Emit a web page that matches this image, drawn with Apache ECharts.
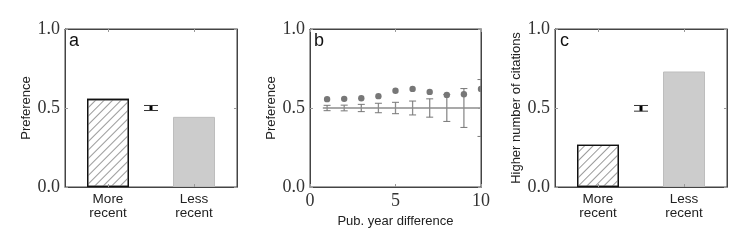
<!DOCTYPE html>
<html><head><meta charset="utf-8">
<script src="https://cdn.jsdelivr.net/npm/echarts@6/dist/echarts.min.js"></script>
<style>html,body{margin:0;padding:0;background:#fff}#c{width:747px;height:249px}</style>
</head><body><div id="c"></div>
<script>
// ---- data ----
const barCategories = ['More\nrecent', 'Less\nrecent'];
const prefA = [0.558, 0.444];
const nullA = [0.484, 0.516];          // low, high of null-model interval (panel a)
const citC = [0.267, 0.731];
const nullC = [0.480, 0.516];          // low, high (panel c)
const yearDiff = [1, 2, 3, 4, 5, 6, 7, 8, 9, 10];
const prefB = [0.556, 0.558, 0.562, 0.575, 0.609, 0.621, 0.602, 0.583, 0.587, 0.621];
const nullLowB = [0.483, 0.482, 0.477, 0.470, 0.464, 0.456, 0.442, 0.415, 0.377, 0.32];
const nullHighB = [0.517, 0.518, 0.523, 0.530, 0.536, 0.544, 0.558, 0.585, 0.623, 0.68];
const refLineB = [[0.75, 0.5], [10, 0.5]];
const panelLetters = ['a', 'b', 'c'];
const yNames = ['Preference', 'Preference', 'Higher number of citations'];
const xNameB = 'Pub. year difference';

// ---- helpers ----
const catAxisData = ['', barCategories[0], '', barCategories[1], ''];
const FRAME = '#444';
const TICK = '#999';
const serif = 'Liberation Serif';
const sans = 'Liberation Sans';

const gridBase = {show: true, borderColor: FRAME, borderWidth: 1, backgroundColor: 'transparent', top: 29, height: 158};
const grids = [
  Object.assign({left: 65, width: 172}, gridBase),
  Object.assign({left: 310, width: 171}, gridBase),
  Object.assign({left: 555, width: 172}, gridBase)
];

const lineOpt = () => ({show: true, onZero: false, lineStyle: {color: FRAME, width: 1}});

function yAxesFor(g) {
  return [
    {gridIndex: g, type: 'value', min: 0, max: 1, interval: 0.5, position: 'left', z: 5,
     name: yNames[g], nameLocation: 'middle', nameGap: 32, nameRotate: 90,
     nameTextStyle: {fontFamily: sans, fontSize: 13, color: '#222'},
     axisLine: lineOpt(),
     axisTick: {show: true, inside: true, length: 3, lineStyle: {color: TICK}},
     axisLabel: {fontFamily: serif, fontSize: 18, color: '#333', margin: 5, formatter: v => v.toFixed(1)},
     splitLine: {show: false}},
    {gridIndex: g, type: 'value', min: 0, max: 1, interval: 0.5, position: 'right', z: 5,
     axisLine: lineOpt(),
     axisTick: {show: true, inside: true, length: 3, lineStyle: {color: TICK}},
     axisLabel: {show: false}, splitLine: {show: false}}
  ];
}
function catXAxesFor(g) {
  const tickInt = (i) => i === 1 || i === 3;
  return [
    {gridIndex: g, type: 'category', data: catAxisData, boundaryGap: false, position: 'bottom', z: 5,
     axisLine: lineOpt(),
     axisTick: {show: true, inside: true, length: 3, interval: tickInt, lineStyle: {color: TICK}},
     axisLabel: {interval: 0, fontFamily: sans, fontSize: 13.5, lineHeight: 14.5, color: '#222', margin: 5},
     splitLine: {show: false}},
    {gridIndex: g, type: 'category', data: catAxisData, boundaryGap: false, position: 'top', z: 5,
     axisLine: lineOpt(),
     axisTick: {show: true, inside: true, length: 3, interval: tickInt, lineStyle: {color: TICK}},
     axisLabel: {show: false}, splitLine: {show: false}}
  ];
}
const valXAxesB = [
  {gridIndex: 1, type: 'value', min: 0, max: 10, interval: 5, position: 'bottom', z: 5,
   name: xNameB, nameLocation: 'middle', nameGap: 26,
   nameTextStyle: {fontFamily: sans, fontSize: 13, color: '#222'},
   axisLine: lineOpt(),
   axisTick: {show: true, inside: true, length: 3, lineStyle: {color: TICK}},
   axisLabel: {fontFamily: serif, fontSize: 18, color: '#333', margin: 5},
   splitLine: {show: false}},
  {gridIndex: 1, type: 'value', min: 0, max: 10, interval: 5, position: 'top', z: 5,
   axisLine: lineOpt(),
   axisTick: {show: true, inside: true, length: 3, lineStyle: {color: TICK}},
   axisLabel: {show: false}, splitLine: {show: false}}
];

const hatch = {
  symbol: 'rect', symbolSize: 1, color: '#9a9a9a',
  dashArrayX: [[1, 0]], dashArrayY: [1, 5], rotation: -Math.PI / 4
};

function barData(vals) {
  return [
    '-',
    {value: vals[0], itemStyle: {color: '#ffffff', borderColor: '#111', borderWidth: 1.3, decal: hatch}},
    '-',
    {value: vals[1], itemStyle: {color: '#cccccc', borderColor: '#bdbdbd', borderWidth: 1}},
    '-'
  ];
}

function errRender(capW, lineW, color, capColor) {
  return function (params, api) {
    const x = api.value(0), lo = api.value(1), hi = api.value(2);
    const p0 = api.coord([x, lo]), p1 = api.coord([x, hi]);
    return {type: 'group', children: [
      {type: 'line', shape: {x1: p0[0], y1: p0[1], x2: p1[0], y2: p1[1]}, style: {stroke: color, lineWidth: lineW}},
      {type: 'line', shape: {x1: p0[0] - capW / 2, y1: p0[1], x2: p0[0] + capW / 2, y2: p0[1]}, style: {stroke: capColor, lineWidth: 1}},
      {type: 'line', shape: {x1: p1[0] - capW / 2, y1: p1[1], x2: p1[0] + capW / 2, y2: p1[1]}, style: {stroke: capColor, lineWidth: 1}}
    ]};
  };
}

const xAxes = [...catXAxesFor(0), ...valXAxesB, ...catXAxesFor(2)];
const yAxes = [...yAxesFor(0), ...yAxesFor(1), ...yAxesFor(2)];
// axis indices: grid0 x:0,1 y:0,1; grid1 x:2,3 y:2,3; grid2 x:4,5 y:4,5

const option = {
  animation: false,
  backgroundColor: '#fff',
  grid: grids,
  xAxis: xAxes,
  yAxis: yAxes,
  series: [
    {type: 'bar', xAxisIndex: 0, yAxisIndex: 0, barWidth: 42, data: barData(prefA), silent: true},
    {type: 'custom', xAxisIndex: 0, yAxisIndex: 0, renderItem: errRender(14, 3, '#000', '#333'),
     encode: {x: 0, y: [1, 2]}, data: [[2, nullA[0], nullA[1]]], z: 3},

    {type: 'line', xAxisIndex: 2, yAxisIndex: 2, data: refLineB, showSymbol: false,
     lineStyle: {color: '#8c8c8c', width: 1.5}, clip: true, z: 1},
    {type: 'custom', xAxisIndex: 2, yAxisIndex: 2, clip: true, renderItem: errRender(7, 1.3, '#8c8c8c', '#777'),
     encode: {x: 0, y: [1, 2]}, data: yearDiff.map((x, i) => [x, nullLowB[i], nullHighB[i]]), z: 2},
    {type: 'custom', xAxisIndex: 2, yAxisIndex: 2, clip: true,
     renderItem: function (params, api) {
       const p = api.coord([api.value(0), api.value(1)]);
       return {type: 'circle', shape: {cx: p[0], cy: p[1], r: 3.2}, style: {fill: '#777'}};
     },
     encode: {x: 0, y: 1}, data: yearDiff.map((x, i) => [x, prefB[i]]), z: 3},

    {type: 'bar', xAxisIndex: 4, yAxisIndex: 4, barWidth: 42, data: barData(citC), silent: true},
    {type: 'custom', xAxisIndex: 4, yAxisIndex: 4, renderItem: errRender(14, 3, '#000', '#333'),
     encode: {x: 0, y: [1, 2]}, data: [[2, nullC[0], nullC[1]]], z: 3}
  ],
  graphic: [
    {type: 'text', left: 69, top: 32, style: {text: panelLetters[0], font: '18px "Liberation Sans"', fill: '#111'}},
    {type: 'text', left: 314, top: 32, style: {text: panelLetters[1], font: '18px "Liberation Sans"', fill: '#111'}},
    {type: 'text', left: 560, top: 32, style: {text: panelLetters[2], font: '18px "Liberation Sans"', fill: '#111'}}
  ]
};
const chart = echarts.init(document.getElementById('c'), null, {renderer: 'canvas'});
chart.setOption(option);
</script>
</body></html>
